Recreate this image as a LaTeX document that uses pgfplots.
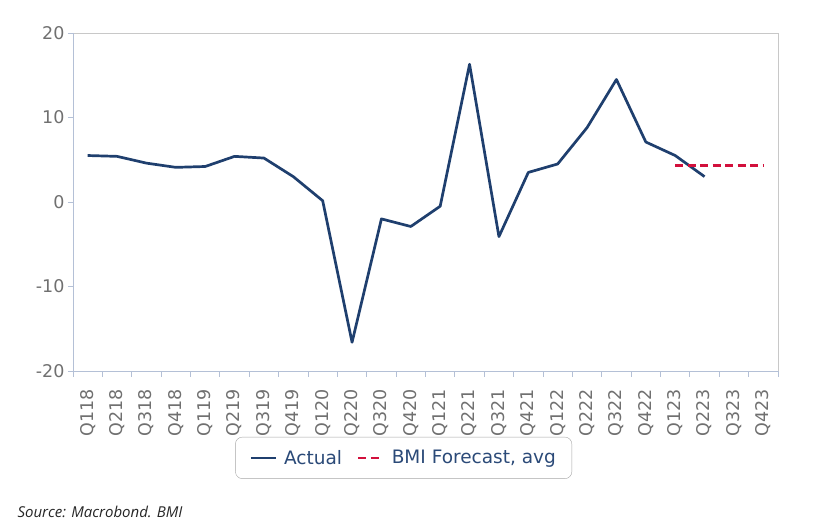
\documentclass[border=0pt]{standalone}
\usepackage{pgfplots}
\pgfplotsset{compat=1.18}
\usepackage{fontspec}
\setmainfont{DejaVu Sans}
\newfontfamily\srcfont{Open Sans}
\definecolor{actual}{HTML}{1F3F6E}
\definecolor{fcst}{HTML}{D2103C}
\definecolor{axblue}{HTML}{B4C0D6}
\definecolor{axgray}{HTML}{C8C8C8}
\definecolor{ticktext}{HTML}{707070}
\definecolor{legtext}{HTML}{2B4A78}

\begin{document}
\begin{tikzpicture}
\useasboundingbox (0,0) rectangle (831pt,521pt);
\begin{axis}[
  at={(73pt,150pt)}, anchor=south west,
  scale only axis, width=705pt, height=338pt,
  xmin=-0.5, xmax=23.5, ymin=-20, ymax=20,
  clip=false,
  axis line style={draw=none},
  xtick pos=lower, ytick pos=left,
  xtick={0,...,23},
  xticklabels={Q118,Q218,Q318,Q418,Q119,Q219,Q319,Q419,Q120,Q220,Q320,Q420,
               Q121,Q221,Q321,Q421,Q122,Q222,Q322,Q422,Q123,Q223,Q323,Q423},
  major x tick style={draw=none},
  minor xtick={-0.5,0.5,...,23.5},
  ytick={-20,-10,0,10,20},
  tick align=outside,
  major tick length=5pt,
  minor tick length=6pt,
  tick style={axblue, line width=0.8pt},
  every tick/.style={axblue, line width=0.8pt},
  xticklabel shift={10pt},
  xticklabel style={rotate=90, anchor=east, font=\fontsize{17.5}{18}\selectfont, text=ticktext},
  yticklabel style={font=\fontsize{17.5}{18}\selectfont, text=ticktext},
  /pgf/number format/assume math mode=true,
  legend columns=2,
  legend style={at={(0.469,-0.257)}, anchor=center, draw=gray!70, rounded corners=7pt,
    font=\fontsize{18.5}{20}\selectfont, text=legtext,
    inner xsep=14pt, inner ysep=11pt,
    /tikz/every odd column/.append style={column sep=5pt},
    /tikz/every even column/.append style={column sep=13pt}},
  legend image code/.code={\draw[#1] (0pt,0pt) -- (25pt,0pt);},
]
\addplot[actual, line width=2.7pt, line join=round] coordinates {
  (0,5.5) (1,5.4) (2,4.6) (3,4.1) (4,4.2) (5,5.4) (6,5.2) (7,3.0)
  (8,0.15) (9,-16.6) (10,-2.0) (11,-2.9) (12,-0.5) (13,16.3) (14,-4.1)
  (15,3.5) (16,4.5) (17,8.8) (18,14.5) (19,7.1) (20,5.5) (21,3.0)
};
\addlegendentry{Actual}
\addplot[fcst, line width=2.7pt, dash pattern=on 8pt off 4.5pt] coordinates {
  (20,4.3) (23,4.3)
};
\addlegendentry{BMI Forecast, avg}
\draw[axgray, line width=0.8pt] (rel axis cs:0,1) -- (rel axis cs:1,1) -- (rel axis cs:1,0);
\draw[axblue, line width=0.8pt] (rel axis cs:0,1) -- (rel axis cs:0,0) -- (rel axis cs:1,0);
\end{axis}
\node[anchor=base west, font=\srcfont\itshape\fontsize{15}{16}\selectfont, text=black!85] at (14pt,3.5pt) {Source: Macrobond. BMI};
\end{tikzpicture}
\end{document}
